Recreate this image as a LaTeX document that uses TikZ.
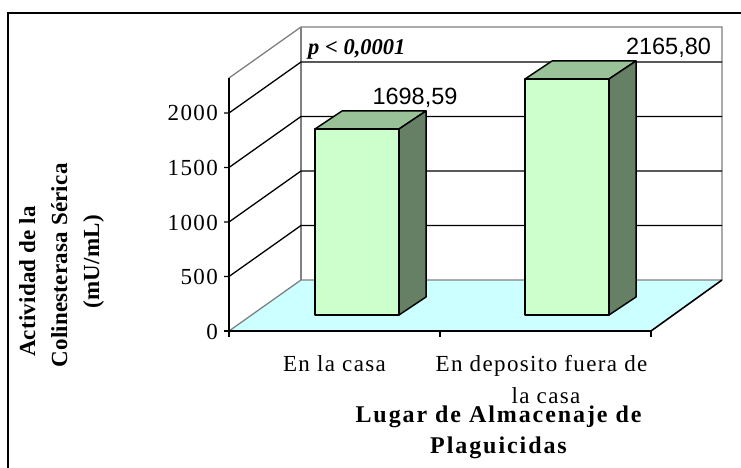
\documentclass[tikz,border=0pt]{standalone}
\usepackage{fontspec}
\setmainfont{Liberation Serif}
\newfontfamily\arialf{Liberation Sans}
\newfontfamily\tnrs[LetterSpace=6]{Liberation Serif}
\newfontfamily\tnrt[LetterSpace=8]{Liberation Serif}
\newfontfamily\tnrv[LetterSpace=1]{Liberation Serif}
\definecolor{barfront}{RGB}{204,255,204}
\definecolor{bartop}{RGB}{153,194,153}
\definecolor{barside}{RGB}{102,128,102}
\definecolor{floorc}{RGB}{204,255,255}
\definecolor{wallgray}{RGB}{128,128,128}
\newcommand\drawmybar[2]{%
  \draw[barline, fill=barfront] (#1,#2) rectangle (#1+84,315);
  \draw[barline, fill=bartop] (#1,#2) -- (#1+27,#2-18) -- (#1+111,#2-18) -- (#1+84,#2) -- cycle;
  \draw[barline, fill=barside] (#1+84,#2) -- (#1+111,#2-18) -- (#1+111,297) -- (#1+84,315) -- cycle;
}
\begin{document}
\begin{tikzpicture}[x=1pt,y=-1pt,
  grayline/.style={draw=wallgray, line width=1.3pt},
  gridline/.style={draw=black, line width=1.3pt},
  axisline/.style={draw=black, line width=1.6pt},
  barline/.style={draw=black, line width=1.5pt, line join=round},
  lbl/.style={inner sep=0pt, font=\tnrs\fontsize{23}{27}\selectfont},
  ttl/.style={inner sep=0pt, font=\tnrt\bfseries\fontsize{24}{28}\selectfont},
  vttl/.style={inner sep=0pt, rotate=90, anchor=base, font=\tnrv\bfseries\fontsize{23}{27}\selectfont},
  val/.style={inner sep=0pt, anchor=base, font=\arialf\fontsize{23.5}{28}\selectfont}]
\useasboundingbox (0,0) rectangle (741,468);
\fill[white] (0,0) rectangle (741,468);
% outer frame
\draw[line width=2pt] (8,468) -- (8,13) -- (741,13);
% key points
\coordinate (F0) at (229,331);
\coordinate (FR) at (651,331);
\coordinate (B0) at (301,280);
\coordinate (BR) at (722,280);
\coordinate (FT) at (229,78);
\coordinate (BT) at (301,27);
\coordinate (BRT) at (722,27);
% floor
\fill[floorc] (F0) -- (FR) -- (BR) -- (B0) -- cycle;
\draw[grayline] (F0) -- (B0) -- (BR);
\draw[grayline] (FT) -- (BT) -- (BRT) -- (BR);
\draw[grayline] (B0) -- (BT);
% gridlines
\foreach \v in {1,2,3,4} {
  \draw[gridline] (224,331-54.5*\v) -- (229,331-54.5*\v) -- (301,280-54.5*\v) -- (722,280-54.5*\v);
}
% axes
\draw[axisline] (FT) -- (229,337);
\draw[axisline] (224,331) -- (F0) -- (FR) -- (BR);
\draw[axisline] (440,331) -- (440,337);
\draw[axisline] (651,331) -- (651,337);
% bars
\drawmybar{315}{129}
\drawmybar{525}{79}
% value labels
\node[val] (v1) at (415,105) {1698,59};
\node[val] (v2) at (668.5,55) {2165,80};
\node[inner sep=0pt, anchor=base west, font=\fontsize{22.5}{26}\selectfont\bfseries\itshape] (pv) at (308,55) {p < 0,0001};
% y tick labels
\node[lbl, anchor=base east] (t0) at (218,339) {0};
\node[lbl, anchor=base east] (t1) at (218,284.5) {500};
\node[lbl, anchor=base east] (t2) at (218,230) {1000};
\node[lbl, anchor=base east] (t3) at (218,175.5) {1500};
\node[lbl, anchor=base east] (t4) at (218,121) {2000};
% x labels
\node[lbl, anchor=base] (c1) at (334.5,371) {En la casa};
\node[lbl, anchor=base] (c2a) at (541.5,371) {En deposito fuera de};
\node[lbl, anchor=base] (c2b) at (546,403) {la casa};
% axis titles
\node[ttl, anchor=base] (xt1) at (498.5,422) {Lugar de Almacenaje de};
\node[ttl, anchor=base] (xt2) at (498.5,453) {Plaguicidas};
\node[vttl] (yt1) at (35,281.5) {Actividad de la};
\node[vttl] (yt2) at (67,265.5) {Colinesterasa Sérica};
\node[vttl] (yt3) at (99,262) {(mU/mL)};
\end{tikzpicture}
\end{document}
